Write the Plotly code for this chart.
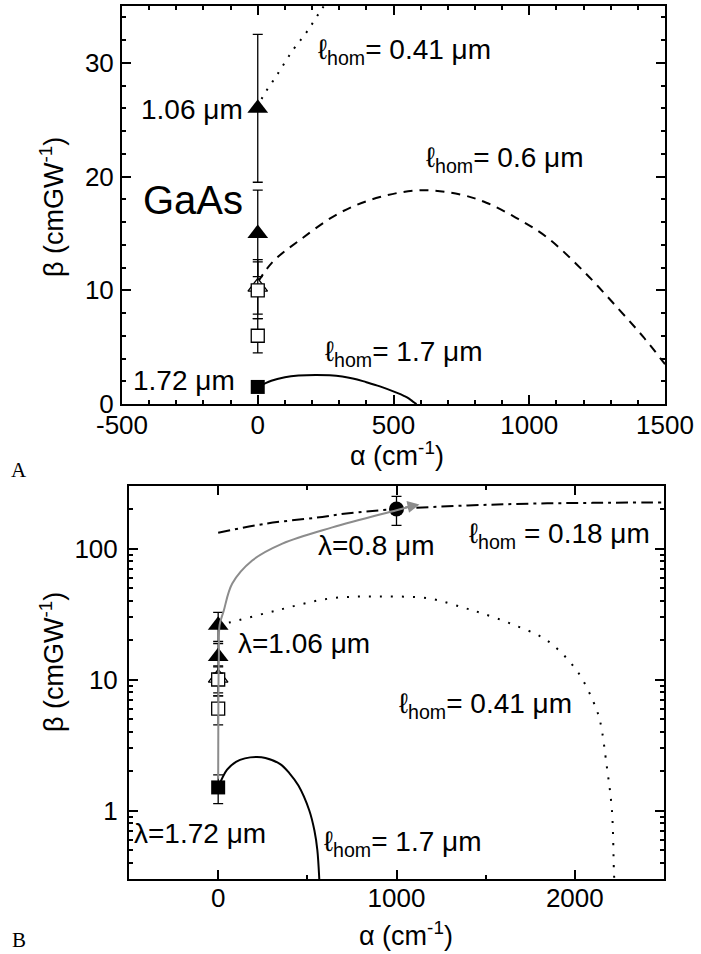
import numpy as np
import plotly.graph_objects as go

# ---------------- data ----------------
# Panel A / B experimental points at alpha = 0 (GaAs)
tri_fill_alpha = [0, 0]
tri_fill_beta = [26, 15]
tri_fill_err_plus = [6.5, 3.8]
tri_fill_err_minus = [6.5, 3.8]

tri_open_alpha = [0]
tri_open_beta = [10.3]
tri_open_err = [2.4]

sq_open_alpha = [0, 0]
sq_open_beta = [10, 6]
sq_open_err = [2.5, 1.5]

sq_fill_alpha = [0]
sq_fill_beta = [1.5]
sq_fill_err = [0.37]

circ_alpha = [1000]
circ_beta = [200]
circ_err = [50]

# l_hom = 1.7 um (solid), both panels
l17_alpha = [0, 50, 100, 150, 213, 265, 350, 400, 450, 511, 540, 556, 567, 575, 585]
l17_beta = [1.5, 2.05, 2.35, 2.5, 2.56, 2.52, 2.25, 1.92, 1.55, 1.0, 0.7, 0.5, 0.3, 0.15, 0.0]

# l_hom = 0.6 um (dashed), panel A
l06_alpha = [0, 55, 154, 301, 450, 607, 750, 842, 950, 1063, 1195, 1331, 1420, 1500]
l06_beta = [10.7, 12.5, 14.4, 16.8, 18.2, 18.8, 18.4, 17.7, 16.4, 14.7, 11.8, 8.3, 5.9, 3.5]

# l_hom = 0.41 um (dotted), panel A
l041A_alpha = [0, 18, 70, 129, 180, 235, 290]
l041A_beta = [26, 27.0, 28.9, 31.1, 32.7, 34.7, 36.5]

# l_hom = 0.41 um (dotted), panel B
l041B_alpha = [0, 62, 326, 624, 900, 1185, 1371, 1483, 1652, 1843, 2011, 2101, 2140, 2180, 2208, 2219, 2222]
l041B_beta = [26, 27.2, 33.6, 41.5, 43.0, 41.5, 35.5, 31.9, 26.3, 19.9, 11.7, 6.9, 4.9, 2.13, 1.0, 0.35, 0.28]

# l_hom = 0.18 um (dash-dot), panel B
l018_alpha = [0, 270, 551, 719, 1000, 1400, 1747, 2100, 2500]
l018_beta = [132, 155, 172, 185, 200, 213, 220, 223, 225]

# grey guide line with arrow, panel B
guide_alpha = [0, 1, 2, 4, 8, 30, 79, 191, 360, 640, 1000, 1100]
guide_beta = [1.75, 6, 10, 15, 26, 33, 54, 81, 109, 145, 196, 213]
arrow_tip = (1129, 217)

# ticks
xA_ticks = [-500, 0, 500, 1000, 1500]
xA_labels = ["-500", "0", "500", "1000", "1500"]
yA_ticks = [0, 10, 20, 30]
xB_ticks = [0, 1000, 2000]
yB_ticks = [1, 10, 100]
yB_minor = [0.3, 0.4, 0.5, 0.6, 0.7, 0.8, 0.9, 2, 3, 4, 5, 6, 7, 8, 9,
            20, 30, 40, 50, 60, 70, 80, 90, 200, 300]

# ---------------- figure ----------------
W, H = 701, 954
FONT = "Liberation Sans, Arial, DejaVu Sans"
fs = 27
tfs = 26

def px_x(p):
    return p / W

def px_y(p):
    return 1 - p / H

fig = go.Figure()

def add_points(xa, ya):
    fig.add_trace(go.Scatter(x=tri_open_alpha, y=tri_open_beta, xaxis=xa, yaxis=ya, mode="markers",
                             marker=dict(symbol="triangle-up", size=17, color="white",
                                         line=dict(color="black", width=1.3)),
                             error_y=dict(type="data", array=tri_open_err, color="black", thickness=1.3, width=5)))
    fig.add_trace(go.Scatter(x=sq_open_alpha, y=sq_open_beta, xaxis=xa, yaxis=ya, mode="markers",
                             marker=dict(symbol="square", size=13, color="white",
                                         line=dict(color="black", width=1.3)),
                             error_y=dict(type="data", array=sq_open_err, color="black", thickness=1.3, width=5)))
    fig.add_trace(go.Scatter(x=tri_fill_alpha, y=tri_fill_beta, xaxis=xa, yaxis=ya, mode="markers",
                             marker=dict(symbol="triangle-up", size=18, color="black"),
                             error_y=dict(type="data", array=tri_fill_err_plus, arrayminus=tri_fill_err_minus,
                                          color="black", thickness=1.3, width=5)))
    fig.add_trace(go.Scatter(x=sq_fill_alpha, y=sq_fill_beta, xaxis=xa, yaxis=ya, mode="markers",
                             marker=dict(symbol="square", size=14, color="black"),
                             error_y=dict(type="data", array=sq_fill_err, color="black", thickness=1.3, width=5)))

# ---- Panel A ----
fig.add_trace(go.Scatter(x=l17_alpha, y=l17_beta, xaxis="x", yaxis="y", mode="lines", line_shape="spline",
                         line=dict(color="black", width=2)))
fig.add_trace(go.Scatter(x=l06_alpha, y=l06_beta, xaxis="x", yaxis="y", mode="lines", line_shape="spline",
                         line=dict(color="black", width=2, dash="9px,7px")))
fig.add_trace(go.Scatter(x=l041A_alpha, y=l041A_beta, xaxis="x", yaxis="y", mode="lines", line_shape="spline",
                         line=dict(color="black", width=2, dash="2px,8px")))
add_points("x", "y")

# ---- Panel B ----
fig.add_trace(go.Scatter(x=l17_alpha[:-1], y=l17_beta[:-1], xaxis="x2", yaxis="y2", mode="lines", line_shape="spline",
                         line=dict(color="black", width=2)))
fig.add_trace(go.Scatter(x=l041B_alpha, y=l041B_beta, xaxis="x2", yaxis="y2", mode="lines", line_shape="spline",
                         line=dict(color="black", width=2, dash="2px,9px")))
fig.add_trace(go.Scatter(x=l018_alpha, y=l018_beta, xaxis="x2", yaxis="y2", mode="lines", line_shape="spline",
                         line=dict(color="black", width=2, dash="12px,5px,3px,5px")))
add_points("x2", "y2")
fig.add_trace(go.Scatter(x=circ_alpha, y=circ_beta, xaxis="x2", yaxis="y2", mode="markers",
                         marker=dict(symbol="circle", size=15, color="black"),
                         error_y=dict(type="data", array=circ_err, color="black", thickness=1.3, width=5)))
fig.add_trace(go.Scatter(x=guide_alpha, y=guide_beta, xaxis="x2", yaxis="y2", mode="lines", line_shape="spline",
                         line=dict(color="#8c8c8c", width=2)))

annotations = []
annotations.append(dict(x=arrow_tip[0], y=np.log10(arrow_tip[1]), xref="x2", yref="y2",
                        ax=guide_alpha[-1] - 60, ay=np.log10(guide_beta[-1] * 0.96), axref="x2", ayref="y2",
                        text="", showarrow=True, arrowhead=2, arrowsize=1.2, arrowwidth=2, arrowcolor="#8c8c8c"))

def lab(text, x, y, xref, yref, xanchor="left", size=fs, family=FONT):
    annotations.append(dict(text=text, x=x, y=y, xref=xref, yref=yref, xanchor=xanchor, yanchor="middle",
                            showarrow=False, font=dict(size=size, family=family, color="black")))

L = "\u2113<sub>hom</sub>"
# Panel A labels
lab("1.06 \u03bcm", -48, 25.9, "x", "y", xanchor="right", size=28)
lab("GaAs", -48, 17.9, "x", "y", xanchor="right", size=40)
lab(L + "= 0.41 \u03bcm", 213, 31.0, "x", "y", size=28)
lab(L + "= 0.6 \u03bcm", 614, 21.5, "x", "y", size=28)
lab(L + "= 1.7 \u03bcm", 239, 4.4, "x", "y", size=28)
lab("1.72 \u03bcm", -77, 2.1, "x", "y", xanchor="right", size=28)
# Panel B labels
lab("\u03bb=0.8 \u03bcm", 551, 2.02, "x2", "y2", size=28)
lab(L + " = 0.18 \u03bcm", 1393, 2.10, "x2", "y2", size=28)
lab("\u03bb=1.06 \u03bcm", 101, 1.275, "x2", "y2", size=28)
lab(L + "= 0.41 \u03bcm", 1000, 0.80, "x2", "y2", size=28)
lab("\u03bb=1.72 \u03bcm", -483, -0.176, "x2", "y2", size=28)
lab(L + "= 1.7 \u03bcm", 584, -0.25, "x2", "y2", size=28)

def ptxt(text, xp, yp, angle=0, size=fs, family=FONT):
    annotations.append(dict(text=text, x=px_x(xp), y=px_y(yp), xref="paper", yref="paper",
                            xanchor="center", yanchor="middle", textangle=angle, showarrow=False,
                            font=dict(size=size, family=family, color="black")))

ptxt("\u03b2 (cmGW<sup>-1</sup>)", 52, 207, angle=-90)
ptxt("\u03b1 (cm<sup>-1</sup>)", 397, 454)
ptxt("\u03b2 (cmGW<sup>-1</sup>)", 52, 662, angle=-90)
ptxt("\u03b1 (cm<sup>-1</sup>)", 406, 934)
ptxt("A", 19, 470, size=21, family="Liberation Serif, Times New Roman, serif")
ptxt("B", 19, 940, size=21, family="Liberation Serif, Times New Roman, serif")

axis_common = dict(showline=True, linecolor="black", linewidth=2, mirror="allticks", ticks="inside",
                   ticklen=9, tickwidth=1.5, tickcolor="black", showgrid=False, zeroline=False,
                   automargin=False,
                   tickfont=dict(size=tfs, family=FONT, color="black"), fixedrange=True)

fig.update_layout(
    width=W, height=H, margin=dict(l=0, r=0, t=0, b=0, autoexpand=False),
    paper_bgcolor="white", plot_bgcolor="white", showlegend=False,
    font=dict(family=FONT, color="black"),
    xaxis=dict(domain=[px_x(122), px_x(665)], anchor="y", range=[-500, 1500],
               tickmode="array", tickvals=xA_ticks, ticktext=xA_labels, ticklabelstandoff=-3,
               minor=dict(dtick=100, tick0=0, ticks="inside", ticklen=4, tickwidth=1.5, tickcolor="black"),
               **axis_common),
    yaxis=dict(domain=[px_y(404), px_y(6)], anchor="x", range=[0, 35],
               tickmode="array", tickvals=yA_ticks, ticktext=[str(v) for v in yA_ticks], ticklabelstandoff=1,
               minor=dict(dtick=2, tick0=0, ticks="inside", ticklen=4, tickwidth=1.5, tickcolor="black"),
               **axis_common),
    xaxis2=dict(domain=[px_x(129), px_x(664)], anchor="y2", range=[-500, 2500],
                tickmode="array", tickvals=xB_ticks, ticktext=[str(v) for v in xB_ticks], ticklabelstandoff=-5,
                minor=dict(dtick=500, tick0=0, ticks="inside", ticklen=4, tickwidth=1.5, tickcolor="black"),
                **axis_common),
    yaxis2=dict(domain=[px_y(879), px_y(486)], anchor="x2", type="log",
                range=[np.log10(0.3), np.log10(300)],
                tickmode="array", tickvals=yB_ticks, ticktext=[str(v) for v in yB_ticks], ticklabelstandoff=4,
                minor=dict(tickmode="array", tickvals=yB_minor, ticks="inside", ticklen=4, tickwidth=1.5,
                           tickcolor="black"),
                **axis_common),
    annotations=annotations,
)

fig.write_html("out.html")
